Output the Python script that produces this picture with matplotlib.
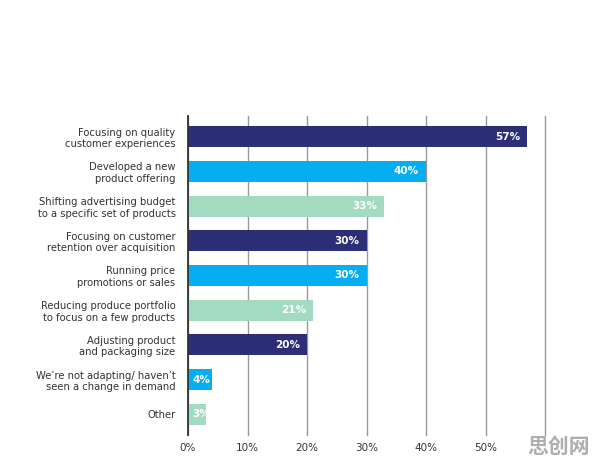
import matplotlib.pyplot as plt

labels = [
    "Focusing on quality\ncustomer experiences",
    "Developed a new\nproduct offering",
    "Shifting advertising budget\nto a specific set of products",
    "Focusing on customer\nretention over acquisition",
    "Running price\npromotions or sales",
    "Reducing produce portfolio\nto focus on a few products",
    "Adjusting product\nand packaging size",
    "We\u2019re not adapting/ haven\u2019t\nseen a change in demand",
    "Other",
]
values = [57, 40, 33, 30, 30, 21, 20, 4, 3]
ticks = [0, 10, 20, 30, 40, 50]
tick_labels = ["0%", "10%", "20%", "30%", "40%", "50%"]

navy = "#2c2f78"
blue = "#05aef0"
mint = "#a2dbc0"
colors = [navy, blue, mint] * 3

fig = plt.figure(figsize=(5.96, 4.62), dpi=100)
ax = fig.add_axes([188 / 596, 1 - 435 / 462, (545 - 188) / 596, (435 - 116) / 462])

y = list(range(len(values)))
ax.barh(y, values, height=0.6, color=colors, zorder=3)

for yi, v in zip(y, values):
    if v < 5:
        # small bars: label starts at the bar's left edge
        ax.text(0.7, yi, f"{v}%", ha="left", va="center", color="white",
                fontsize=7.5, fontweight="bold", zorder=4)
    else:
        ax.text(v - 1.2, yi, f"{v}%", ha="right", va="center", color="white",
                fontsize=7.5, fontweight="bold", zorder=4)

ax.set_xlim(0, 60)
ax.set_ylim(8.6, -0.6)
ax.set_yticks(y)
ax.set_yticklabels(labels, fontsize=7.2, color="#333333", linespacing=1.2)
ax.set_xticks(ticks + [60])
ax.set_xticklabels(tick_labels + [""], fontsize=7.5, color="#333333")
ax.tick_params(axis="y", length=0, pad=9)
ax.tick_params(axis="x", length=0, pad=6)

ax.grid(axis="x", color="#9a9a9a", linewidth=1.0, zorder=0)
for gl in ax.get_xgridlines():
    gl.set_clip_on(False)
for s in ["top", "right", "bottom"]:
    ax.spines[s].set_visible(False)
ax.spines["left"].set_color("#333333")
ax.spines["left"].set_linewidth(1.3)
ax.spines["left"].set_zorder(5)

fig.text(0.99, 0.01, "思创网", family=["Noto Sans CJK SC", "DejaVu Sans"],
         fontsize=15, fontweight="bold", color="#9a9a9a", ha="right", va="bottom", alpha=0.8)

fig.savefig("out.png", dpi=100)
plt.close(fig)
